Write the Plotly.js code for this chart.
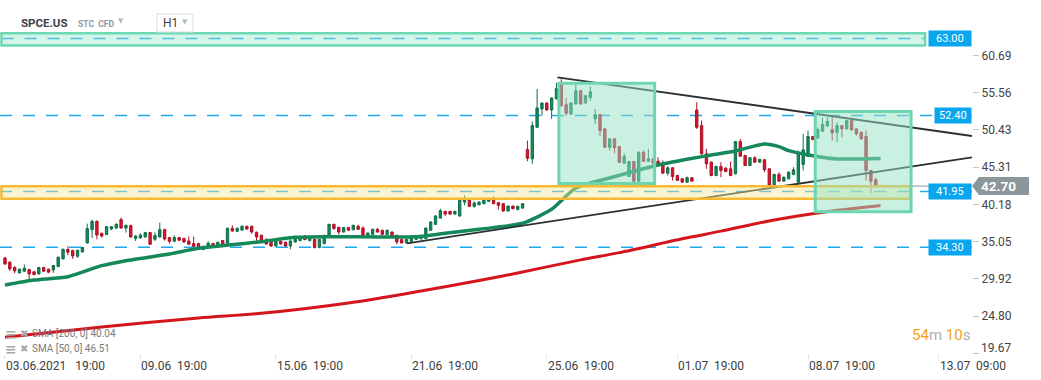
<!DOCTYPE html>
<html><head><meta charset="utf-8">
<script src="https://cdn.plot.ly/plotly-3.0.1.min.js"></script>
<style>html,body{margin:0;padding:0;background:#fff;}#chart{width:1041px;height:380px;}</style>
</head><body><div id="chart"></div>
<script>
// ---- data (hourly candles, SPCE.US) ----
const open = [32.82,32.23,31.50,30.76,30.99,31.23,30.90,30.62,31.50,31.27,
31.17,31.64,32.68,33.97,33.83,33.05,33.64,34.88,36.71,37.85,
36.20,36.03,36.80,36.93,38.09,36.93,37.26,35.48,35.56,35.70,
36.30,35.38,35.70,36.71,35.62,35.11,35.62,35.48,35.15,34.79,
34.79,33.97,34.19,34.79,34.32,35.20,34.65,36.89,36.48,36.66,
37.17,37.17,36.34,35.93,35.11,34.97,34.46,35.11,34.97,34.46,
35.01,35.20,35.83,35.20,35.38,34.24,34.79,35.83,37.44,37.03,
36.38,36.99,36.71,37.17,36.93,35.83,36.06,36.75,36.62,36.03,
36.38,35.93,35.34,34.88,35.11,35.38,35.45,35.48,36.62,37.44,
38.30,39.22,39.22,38.85,38.58,40.50,40.83,39.91,40.14,40.28,
40.60,40.83,40.42,40.28,39.27,39.95,39.46,39.67,47.73,46.45,
50.79,53.31,54.13,53.17,54.72,56.74,53.90,52.62,54.00,55.82,
54.13,54.90,51.94,52.53,50.57,48.04,49.20,48.14,45.85,44.02,
46.08,43.38,47.36,46.12,46.45,46.12,45.67,44.48,45.22,44.16,
43.71,43.24,43.85,53.17,51.02,47.14,45.99,44.16,45.40,45.17,
45.08,44.39,48.82,46.90,45.53,46.59,45.99,46.32,45.08,42.79,
44.30,43.38,43.71,44.30,43.24,45.67,46.77,49.51,49.33,50.24,
50.97,50.47,50.10,51.02,50.57,51.71,50.57,50.10,49.51,44.85,
43.57,42.79];
const high = [32.96,32.37,31.68,31.35,31.91,31.30,31.03,31.60,31.60,31.35,
31.85,33.00,34.10,34.42,33.95,33.95,34.35,37.54,38.09,37.99,
36.30,37.20,37.20,37.58,38.36,37.40,37.40,35.95,36.20,36.40,
36.40,36.34,37.67,36.85,35.70,35.93,35.70,35.60,35.75,35.75,
34.90,34.50,35.11,34.90,35.05,35.30,37.00,37.30,37.00,37.30,
37.25,37.25,36.45,36.03,35.56,35.05,35.20,35.20,35.05,35.62,
35.45,35.80,35.97,35.70,35.45,35.45,36.06,37.50,37.50,37.10,
37.05,37.05,37.40,37.40,37.17,36.30,36.85,36.93,36.70,36.70,
36.45,36.00,35.45,35.45,35.80,35.90,35.92,37.00,37.85,38.70,
39.59,39.30,39.30,39.30,40.85,41.42,40.90,40.60,40.60,40.85,
40.90,41.28,40.50,40.35,40.00,40.00,40.00,40.35,48.96,51.57,
56.05,54.20,54.20,54.90,56.92,57.40,54.82,54.20,56.64,55.90,
55.20,56.41,53.31,52.60,50.65,49.30,49.30,48.20,47.22,46.15,
46.15,47.45,47.59,47.82,46.55,46.67,46.22,45.40,45.30,44.25,
43.80,44.02,43.95,54.22,51.71,47.82,46.10,45.50,45.99,45.30,
46.08,48.90,49.20,47.00,46.70,46.81,46.45,46.40,45.15,44.40,
44.61,44.00,44.70,45.30,47.59,49.88,50.33,49.60,50.74,52.16,
52.16,52.39,51.47,51.10,51.80,51.88,50.65,50.20,50.33,44.90,
43.85,42.85];
const low = [31.86,31.03,30.72,30.65,30.86,29.76,30.40,30.50,30.90,30.72,
30.76,31.55,32.60,33.19,32.68,32.82,33.55,34.80,35.56,35.38,
35.61,35.95,36.62,36.80,36.85,36.30,35.61,35.15,35.48,35.61,
34.60,35.15,35.61,35.20,34.79,35.00,35.15,34.90,34.60,34.35,
34.10,33.90,34.10,34.20,34.25,34.45,34.55,36.40,36.40,36.55,
36.70,36.16,35.11,34.88,34.65,34.35,34.35,34.65,34.35,34.01,
34.90,35.10,35.25,35.10,34.15,34.15,34.70,35.75,36.71,36.06,
36.30,36.55,36.60,36.65,35.75,35.60,35.97,36.30,35.97,35.95,
35.60,34.70,34.80,34.80,35.00,35.30,35.35,35.40,36.50,37.35,
38.20,38.58,38.78,38.78,38.50,40.05,39.85,39.73,40.05,40.20,
40.50,40.20,39.46,39.20,39.20,39.50,39.40,39.60,46.12,45.77,
50.70,52.39,53.10,51.94,54.60,53.60,52.39,52.50,53.90,53.90,
54.05,54.45,51.25,49.55,47.95,47.59,47.22,45.90,45.75,43.95,
43.10,43.30,46.05,46.05,45.75,45.60,44.40,44.16,43.48,43.40,
43.15,43.15,43.30,50.57,47.05,45.08,44.05,44.05,43.93,44.60,
44.05,44.30,46.70,45.45,45.45,45.90,45.90,44.61,42.70,42.70,
43.30,43.30,43.60,44.20,43.15,44.85,46.70,49.00,49.25,50.15,
50.90,48.96,48.73,49.41,50.50,50.35,49.65,49.10,43.48,41.69,
42.56,42.60];
const close = [31.99,31.31,31.03,31.27,31.40,30.62,30.54,31.50,30.99,30.86,
31.77,32.91,34.01,33.60,33.09,33.87,34.24,36.85,37.85,35.97,
35.83,37.12,37.12,37.44,36.93,37.30,35.70,35.83,35.97,36.30,
34.70,35.89,36.71,35.42,35.11,35.62,35.25,35.01,34.70,34.42,
34.19,34.42,34.83,34.32,34.97,34.56,36.89,36.52,36.89,37.17,
36.80,36.38,35.70,35.25,34.74,34.46,35.11,34.74,34.46,35.15,
35.38,35.70,35.34,35.62,34.24,35.38,35.83,37.44,36.85,36.38,
36.99,36.62,37.30,36.75,35.83,36.25,36.75,36.38,36.06,36.62,
35.70,35.01,34.88,35.38,35.70,35.83,35.86,36.93,37.76,38.58,
39.32,38.85,38.85,39.22,40.77,40.83,39.91,40.36,40.50,40.77,
40.83,40.28,40.05,39.27,39.95,39.59,39.91,40.28,46.53,51.02,
53.45,54.13,53.17,54.82,56.10,53.76,52.71,54.13,55.82,54.00,
55.13,55.68,52.53,50.33,48.04,49.20,47.96,45.99,46.77,46.08,
43.38,47.36,46.12,46.45,45.85,45.67,44.48,45.22,44.02,43.48,
43.24,43.85,43.38,50.79,47.14,45.77,44.16,45.40,44.85,44.71,
44.16,48.82,46.81,45.53,46.59,45.99,46.36,44.94,42.79,44.30,
43.38,43.93,44.61,44.94,47.14,47.69,49.51,49.10,50.47,51.16,
51.61,50.02,51.02,50.57,51.71,50.43,49.88,49.20,44.85,43.38,
42.79,42.70];

// moving averages (candle index, value)
const sma50Idx = [0,6,13,20,25,34,40,53,60,67,85,91,98,107,113,118,125,135,141,146,151,157,160,162,167,172,181];
const sma50Val = [29.09,29.78,30.23,31.75,32.44,33.36,34.14,35.05,35.65,35.74,35.74,36.20,36.75,37.58,39.51,42.44,43.81,45.60,46.39,46.98,47.53,48.49,48.12,47.57,46.88,46.43,46.51];
const sma200Idx = [0,20,40,53,71,86,98,106,119,127,140,148,159,171,181];
const sma200Val = [21.90,23.31,24.55,25.20,26.62,28.27,29.70,30.75,32.55,33.55,35.45,36.50,38.03,39.27,40.04];

// horizontal price levels and current price
const levels = [63.00, 52.40, 41.95, 34.30];
const lastPrice = 42.70;

// drawn objects (candle index, price)
const trendUpperIdx = [114.2, 199.9];
const trendUpperPrice = [57.67, 49.59];
const trendLowerIdx = [83.1, 199.9];
const trendLowerPrice = [34.83, 46.66];
const box1Idx = [114.5, 134.3];
const box1Price = [43.06, 56.85];
const box2Idx = [167.5, 187.3];
const box2Price = [39.16, 52.96];
const zoneTopIdx = [-0.72, 190.2];
const zoneTopPrice = [62.05, 63.72];
const zoneMidIdx = [-0.72, 187.1];
const zoneMidPrice = [40.96, 42.67];

// axis labels
const xTickIdx = [0, 28, 56, 84, 112, 139, 166, 193];
const xTickText = ['03.06.2021   19:00','09.06  19:00','15.06  19:00','21.06  19:00','25.06  19:00','01.07  19:00','08.07  19:00','13.07  09:00'];
const yTickVals = [19.67, 24.80, 29.92, 35.05, 40.18, 45.31, 50.43, 55.56, 60.69];
const smaLegend = ['SMA [200, 0] 40.04', 'SMA [50, 0] 46.51'];
const timerParts = ['54', 'm ', '10', 's'];

// ---- drawing ----
const FONT = 'Roboto, "Open Sans", sans-serif';
const idx = open.map((_, i) => i);
const nb = s => s.replace(/ /g, '\u00a0');

const traces = [
  {type:'candlestick', x: idx, open, high, low, close,
   increasing:{fillcolor:'#168a5c', line:{color:'#0f7049', width:1}},
   decreasing:{fillcolor:'#d3162f', line:{color:'#b01026', width:1}},
   whiskerwidth:0, hoverinfo:'skip', showlegend:false},
  {type:'scatter', mode:'lines', x: sma200Idx, y: sma200Val, line:{color:'#d4161c', width:3, shape:'spline', smoothing:0.8}, hoverinfo:'skip'},
  {type:'scatter', mode:'lines', x: sma50Idx, y: sma50Val, line:{color:'#15885a', width:3.5, shape:'spline', smoothing:0.6}, hoverinfo:'skip'},
  {type:'scatter', mode:'lines', x: trendUpperIdx, y: trendUpperPrice, line:{color:'#2a3035', width:1.8}, hoverinfo:'skip'},
  {type:'scatter', mode:'lines', x: trendLowerIdx, y: trendLowerPrice, line:{color:'#2a3035', width:1.8}, hoverinfo:'skip'},
  {type:'scatter', mode:'lines', x: [close.length - 1, 199.9], y: [lastPrice, lastPrice], line:{color:'#8c979c', width:1}, hoverinfo:'skip'}
];

const shapes = [];
// dashed level lines (below)
levels.forEach((lv, i) => {
  shapes.push({type:'line', layer:'below', xref: i === 0 ? 'x' : 'paper', yref:'y',
    x0: i === 0 ? zoneTopIdx[0] : 0, x1: i === 0 ? zoneTopIdx[1] : 1, y0: lv, y1: lv,
    line:{color:'#1ea8ee', width:1.5, dash:'12px,11px'}});
});
// zones and boxes (above)
shapes.push({type:'rect', layer:'above', xref:'x', yref:'y', x0: zoneTopIdx[0], x1: zoneTopIdx[1], y0: zoneTopPrice[0], y1: zoneTopPrice[1],
  fillcolor:'rgba(150,228,200,0.42)', line:{color:'#6dd9b3', width:2.5}});
shapes.push({type:'rect', layer:'above', xref:'x', yref:'y', x0: zoneMidIdx[0], x1: zoneMidIdx[1], y0: zoneMidPrice[0], y1: zoneMidPrice[1],
  fillcolor:'rgba(245,232,150,0.45)', line:{color:'#f7b931', width:2.5}});
[[box1Idx, box1Price], [box2Idx, box2Price]].forEach(([bx, by]) => {
  shapes.push({type:'rect', layer:'above', xref:'x', yref:'y', x0: bx[0], x1: bx[1], y0: by[0], y1: by[1],
    fillcolor:'rgba(150,225,195,0.5)', line:{color:'#6dd6b0', width:3}});
});
// current price arrow label
shapes.push({type:'path', layer:'above', xref:'paper', yref:'y', xsizemode:'pixel', ysizemode:'pixel',
  xanchor:1, yanchor:lastPrice, path:'M0,0L7,9L57,9L57,-9L7,-9Z', fillcolor:'#8c979c', line:{width:0}});
// H1 box in header
shapes.push({type:'rect', xref:'paper', yref:'paper', x0:0.1614, x1:0.1985, y0:0.9096, y1:0.9605,
  line:{color:'#dedede', width:1}, fillcolor:'#ffffff', layer:'above'});

const annotations = [];
// x labels, left aligned at their ticks
xTickIdx.forEach((xi, i) => annotations.push({xref:'x', yref:'paper', x: xi, y: 0, yanchor:'top', xanchor:'left', yshift:-3, xshift:-1,
  text: nb(xTickText[i]), showarrow:false, font:{family:FONT, size:12, color:'#3d3d3d'}}));
// lowest price tick label sits a little higher, clear of the time labels
annotations.push({xref:'paper', yref:'y', x:1, y: yTickVals[0], xanchor:'left', yanchor:'middle', xshift:8, yshift:5,
  text: yTickVals[0].toFixed(2), showarrow:false, borderpad:0, font:{family:FONT, size:12, color:'#444'}});
// level labels
levels.forEach((lv, i) => annotations.push({xref:'paper', yref:'y', x:1, y: lv, xanchor:'right', yanchor:'middle',
  text: lv.toFixed(2), showarrow:false, bgcolor:'#07a6ef', borderpad:1.3, width: i === 1 ? 33 : 39, height: 12,
  font:{family:FONT, size:11, color:'#ffffff'}}));
// current price text
annotations.push({xref:'paper', yref:'y', x:1, y:lastPrice, xanchor:'left', yanchor:'middle', xshift:7,
  text:'<b>' + lastPrice.toFixed(2) + '</b>', showarrow:false, font:{family:FONT, size:13.5, color:'#ffffff'}});
// header
annotations.push({xref:'paper', yref:'paper', x:0.0195, y:0.935, xanchor:'left', yanchor:'middle', text:'<b>SPCE.US</b>', showarrow:false, font:{family:FONT, size:11.5, color:'#3b4046'}});
annotations.push({xref:'paper', yref:'paper', x:0.078, y:0.933, xanchor:'left', yanchor:'middle', text:'<b>STC\u00a0\u00a0CFD</b>', showarrow:false, font:{family:FONT, size:8.5, color:'#8b99a6'}});
annotations.push({xref:'paper', yref:'paper', x:0.1195, y:0.94, xanchor:'left', yanchor:'middle', text:'▼', showarrow:false, font:{family:'DejaVu Sans', size:7, color:'#b6bbc0'}});
annotations.push({xref:'paper', yref:'paper', x:0.166, y:0.935, xanchor:'left', yanchor:'middle', text:'H1', showarrow:false, font:{family:FONT, size:12, color:'#444'}});
annotations.push({xref:'paper', yref:'paper', x:0.1855, y:0.937, xanchor:'left', yanchor:'middle', text:'▼', showarrow:false, font:{family:'DejaVu Sans', size:7, color:'#b6bbc0'}});
// SMA legend
[0.0565, 0.0155].forEach((py, i) => {
  annotations.push({xref:'paper', yref:'paper', x:0.003, y:py, xanchor:'left', yanchor:'middle', text:'<b>≡</b>', showarrow:false, font:{family:'DejaVu Sans', size:14, color:'#a8a8a8'}});
  annotations.push({xref:'paper', yref:'paper', x:0.0185, y:py, xanchor:'left', yanchor:'middle', text:'✖', showarrow:false, font:{family:'DejaVu Sans', size:10, color:'#a8a8a8'}});
  annotations.push({xref:'paper', yref:'paper', x:0.031, y:py, xanchor:'left', yanchor:'middle', text: smaLegend[i], showarrow:false, font:{family:FONT, size:10, color:'#7a7a7a'}});
});
// timer
annotations.push({xref:'paper', yref:'paper', x:1, y:0.053, xanchor:'right', yanchor:'middle', showarrow:false,
  text:'<span style="color:#f7a11a">' + timerParts[0] + '</span><span style="color:#b0b0b0">' + nb(timerParts[1]) + '</span><span style="color:#f7a11a">' + timerParts[2] + '</span><span style="color:#b0b0b0">' + timerParts[3] + '</span>',
  font:{family:FONT, size:15, color:'#f7a11a'}});

const layout = {
  width:1041, height:380,
  margin:{l:0, r:68.5, t:0, b:26, pad:0},
  paper_bgcolor:'#ffffff', plot_bgcolor:'#ffffff',
  showlegend:false, hovermode:false, boxgap:0.3,
  xaxis:{type:'linear', range:[-1.03, 199.9], showgrid:false, zeroline:false, showline:false,
    rangeslider:{visible:false}, tickvals:xTickIdx, ticks:'outside', ticklen:4, tickcolor:'#e2e2e2', showticklabels:false, fixedrange:true},
  yaxis:{side:'right', range:[19.6, 68.3], showgrid:false, zeroline:false, showline:false,
    tickvals:yTickVals, ticktext:yTickVals.map((v, i) => i === 0 ? '' : v.toFixed(2)), ticks:'outside', ticklen:6, tickcolor:'#c4c4c4',
    tickfont:{family:FONT, size:12, color:'#444'}, fixedrange:true},
  shapes, annotations,
  font:{family:FONT}
};

Plotly.newPlot('chart', traces, layout, {displayModeBar:false, staticPlot:true});
</script></body></html>
